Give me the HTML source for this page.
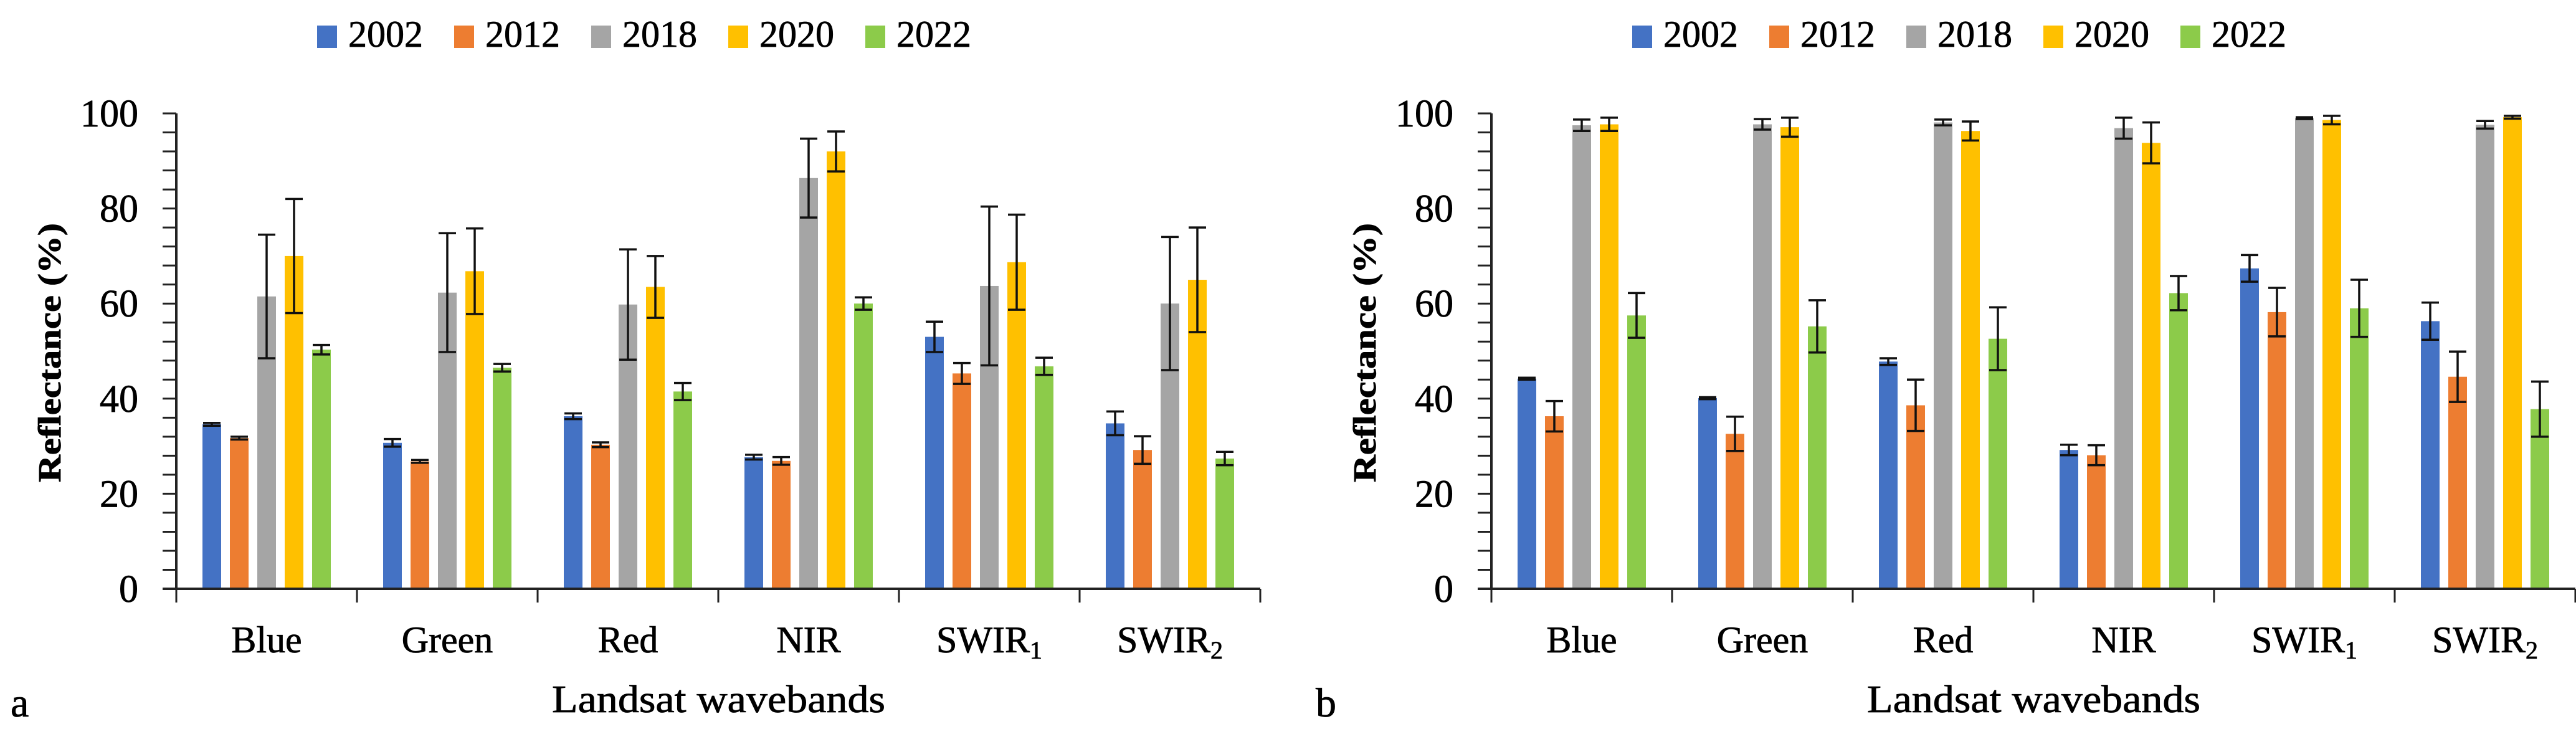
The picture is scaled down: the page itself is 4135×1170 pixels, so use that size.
<!DOCTYPE html>
<html><head><meta charset="utf-8">
<style>
html,body{margin:0;padding:0;background:#fff;}
svg{display:block;}
text{font-family:"Liberation Serif",serif;fill:#000;stroke:#000;stroke-width:0.8px;}
</style></head>
<body>
<svg id="fig" width="4135" height="1170" viewBox="0 0 4135 1170" xmlns="http://www.w3.org/2000/svg"></svg>
<script>
const categories = ["Blue","Green","Red","NIR","SWIR1","SWIR2"];
const years = ["2002","2012","2018","2020","2022"];
const colors = ["#4472C4","#ED7D31","#A5A5A5","#FFC000","#8CCB4A"];
const yTicks = [0,20,40,60,80,100];
// panel a values [year][category]
const aVals2002 = [34.6,30.7,36.3,27.7,53.0,34.8];
const aVals2012 = [31.7,26.8,30.3,26.9,45.3,29.2];
const aVals2018 = [61.5,62.3,59.8,86.4,63.7,60.0];
const aVals2020 = [70.0,66.8,63.5,92.0,68.7,65.0];
const aVals2022 = [50.3,46.5,41.5,60.0,46.8,27.4];
const aErr2002 = [0.3,0.8,0.6,0.5,3.2,2.5];
const aErr2012 = [0.3,0.3,0.5,0.8,2.2,2.9];
const aErr2018 = [13.0,12.5,11.6,8.3,16.7,14.0];
const aErr2020 = [12.0,9.0,6.5,4.2,10.0,11.0];
const aErr2022 = [1.0,0.8,1.8,1.3,1.8,1.4];
// panel b values
const bVals2002 = [44.2,40.1,47.8,29.2,67.4,56.3];
const bVals2012 = [36.3,32.6,38.6,28.1,58.2,44.6];
const bVals2018 = [97.5,97.7,98.1,96.9,99.0,97.6];
const bVals2020 = [97.7,97.1,96.3,93.8,98.6,99.2];
const bVals2022 = [57.5,55.2,52.6,62.2,59.0,37.8];
const bErr2002 = [0.2,0.2,0.7,1.1,2.8,3.9];
const bErr2012 = [3.2,3.6,5.4,2.1,5.1,5.3];
const bErr2018 = [1.2,1.1,0.6,2.2,0.2,0.8];
const bErr2020 = [1.4,2.0,2.0,4.3,0.9,0.3];
const bErr2022 = [4.7,5.5,6.6,3.6,6.0,5.8];

const NS="http://www.w3.org/2000/svg";
const svg=document.getElementById('fig');
function mk(tag,attrs,parent){const e=document.createElementNS(NS,tag);for(const k in attrs)e.setAttribute(k,attrs[k]);(parent||svg).appendChild(e);return e;}

function panel(ox, vals, errs, letter){
  const g=mk('g',{});
  
  
  const axX=ox+283, y0=945, y100=182, groupW=290;
  const yS=v=>y0-(v/100)*(y0-y100);
  const xC=i=>axX+groupW*(i+0.5);
  years.forEach((yr,k)=>{
    const lx=ox+509+k*220;
    const r=mk('rect',{x:lx,y:41,width:32,height:36,fill:colors[k]},g);
    
    
    const t=mk('text',{x:lx+50,y:75,'font-size':60},g);
    t.textContent=yr;
    
    
  });
  categories.forEach((c,i)=>{
    years.forEach((yr,k)=>{
      const v=vals[k][i], e=errs[k][i];
      const cx=xC(i)+(k-2)*44;
      const b=mk('rect',{x:cx-15,y:yS(v),width:30,height:y0-yS(v),fill:colors[k]},g);
      
      
      const eb=mk('path',{d:`M${cx},${yS(v+e)}V${yS(v-e)}M${cx-14},${yS(v+e)}H${cx+14}M${cx-14},${yS(v-e)}H${cx+14}`,stroke:'#111','stroke-width':3.5,fill:'none'},g);
      
      
    });
  });
  const ya=mk('line',{x1:axX,y1:y100,x2:axX,y2:y0,stroke:'#222','stroke-width':4},g);
  
  
  for(let v=0;v<=100;v+=4){
    const tk=mk('line',{x1:axX-22,y1:yS(v),x2:axX,y2:yS(v),stroke:'#222','stroke-width':3},g);
    
    
  }
  yTicks.forEach(v=>{
    const t=mk('text',{x:axX-61,y:yS(v)+21,'font-size':62,'text-anchor':'end'},g);
    t.textContent=v;
    
    
  });
  const xa=mk('line',{x1:axX-22,y1:y0,x2:axX+groupW*6,y2:y0,stroke:'#222','stroke-width':4},g);
  
  
  for(let i=0;i<=6;i++){
    const tk=mk('line',{x1:axX+groupW*i,y1:y0,x2:axX+groupW*i,y2:y0+22,stroke:'#222','stroke-width':3},g);
    
    
  }
  categories.forEach((c,i)=>{
    const t=mk('text',{x:xC(i),y:1047,'font-size':60,'text-anchor':'middle'},g);
    if(c.startsWith('SWIR')){
      t.appendChild(document.createTextNode('SWIR'));
      const s=mk('tspan',{'font-size':40,dy:10},t);
      s.textContent=c.slice(4);
    } else t.textContent=c;
    
    
  });
  const xt=mk('text',{x:ox+886,y:1143,'font-size':62,textLength:535,lengthAdjust:'spacingAndGlyphs'},g);
  xt.textContent='Landsat wavebands';
  
  
  const yt=mk('text',{x:0,y:0,'font-size':52,'font-weight':'bold','text-anchor':'middle',textLength:416,lengthAdjust:'spacingAndGlyphs',transform:`translate(${ox+97},566) rotate(-90)`},g);
  yt.textContent='Reflectance (%)';
  
  
  const pl=mk('text',{x:(letter==='a'?17:2112),y:1150,'font-size':66},g);
  pl.textContent=letter;
  
  
}
panel(0,[aVals2002,aVals2012,aVals2018,aVals2020,aVals2022],[aErr2002,aErr2012,aErr2018,aErr2020,aErr2022],'a');
panel(2111,[bVals2002,bVals2012,bVals2018,bVals2020,bVals2022],[bErr2002,bErr2012,bErr2018,bErr2020,bErr2022],'b');
</script>
</body></html>
